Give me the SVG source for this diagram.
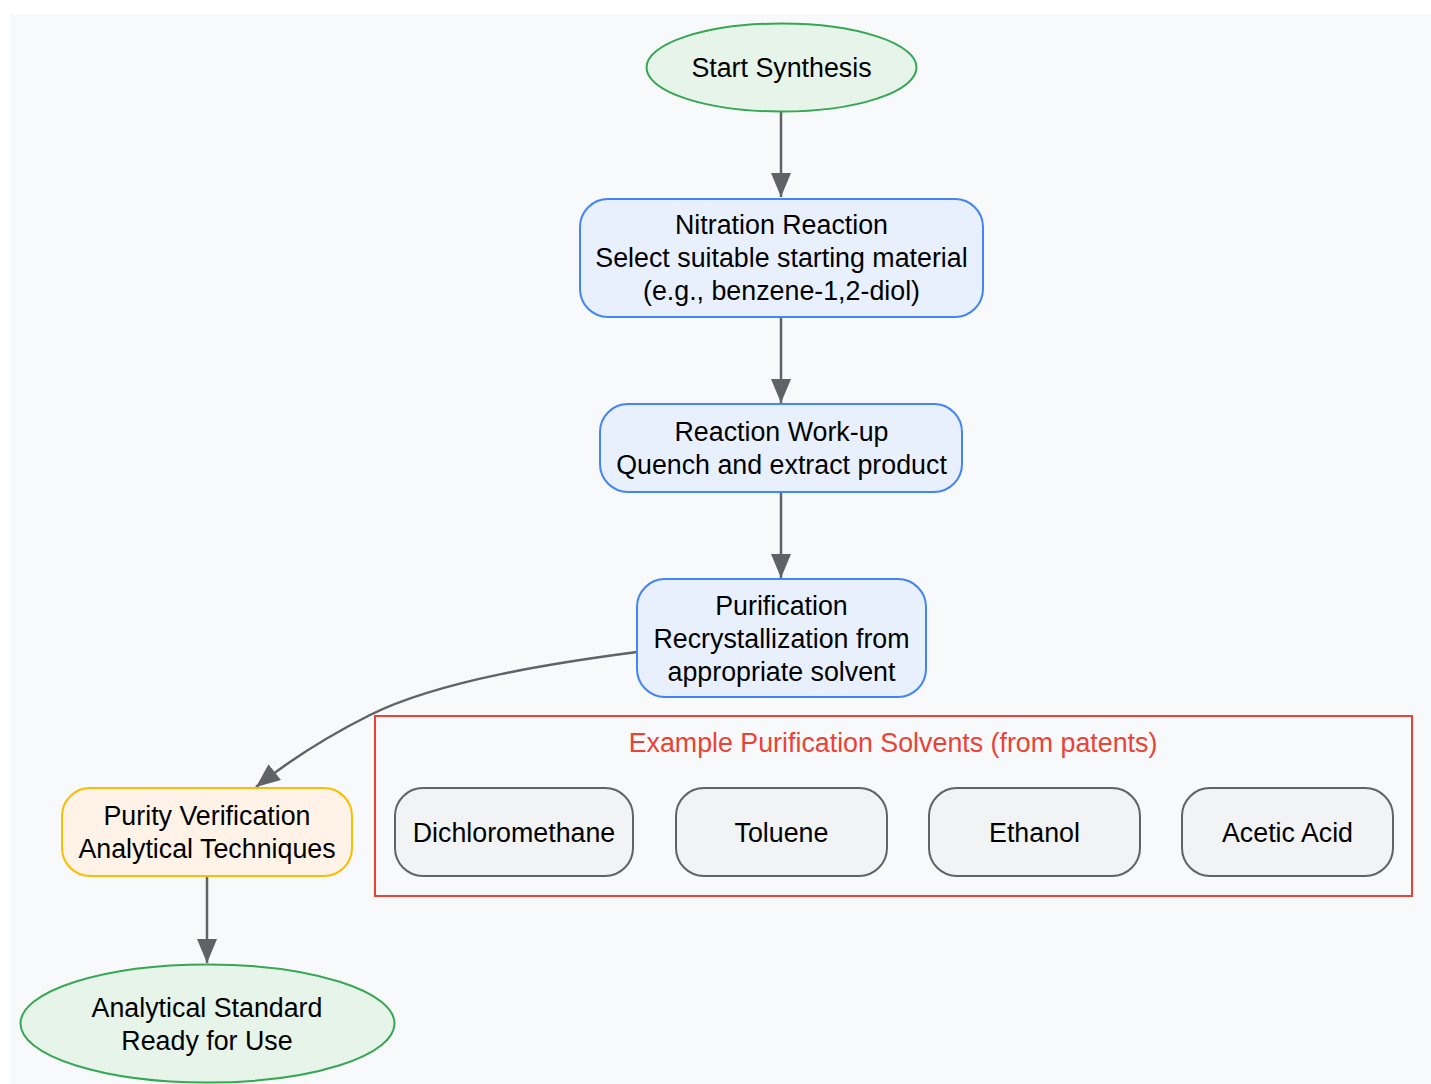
<svg xmlns="http://www.w3.org/2000/svg" width="1431" height="1084" viewBox="0 0 1431 1084">
<defs>
<style>
text{font-family:"Liberation Sans",Arial,sans-serif;font-size:26.8px;fill:#000;text-anchor:middle}
.green{fill:#e6f4ea;stroke:#34a853;stroke-width:2}
.blue{fill:#e8f0fe;stroke:#4285f4;stroke-width:2}
.yellow{fill:#fef3e6;stroke:#fbbc04;stroke-width:2}
.gray{fill:#f1f3f4;stroke:#5f6368;stroke-width:2}
.edge{fill:none;stroke:#5f6368;stroke-width:2.5}
</style>
<marker id="ah" viewBox="0 0 12 10" refX="12" refY="5" markerWidth="24" markerHeight="20" markerUnits="userSpaceOnUse" orient="auto">
<path d="M0,0 L12,5 L0,10 z" fill="#5f6368"/>
</marker>
</defs>
<rect x="0" y="0" width="1431" height="1084" fill="#ffffff"/>
<rect x="10" y="14" width="1421" height="1070" fill="#f8f9fa"/>

<g id="cluster">
<rect x="375" y="716" width="1037" height="180" fill="none" stroke="#ea4335" stroke-width="2"/>
<text x="893" y="752" style="fill:#ea4335">Example Purification Solvents (from patents)</text>
</g>

<g id="edges">
<path class="edge" d="M781,112 L781,197" marker-end="url(#ah)"/>
<path class="edge" d="M781,317 L781,403" marker-end="url(#ah)"/>
<path class="edge" d="M781,492 L781,578" marker-end="url(#ah)"/>
<path class="edge" d="M637,652 C560,662 440,680 370,715 C330,735 290,760 256,787" marker-end="url(#ah)"/>
<path class="edge" d="M207,876 L207,963" marker-end="url(#ah)"/>
</g>

<g id="start">
<ellipse class="green" cx="781.5" cy="67.5" rx="135" ry="44"/>
<text x="781.5" y="77">Start Synthesis</text>
</g>
<g id="nitration">
<rect class="blue" x="580" y="199" width="403" height="118" rx="28"/>
<text x="781.5" y="234">Nitration Reaction</text>
<text x="781.5" y="267">Select suitable starting material</text>
<text x="781.5" y="300">(e.g., benzene-1,2-diol)</text>
</g>
<g id="workup">
<rect class="blue" x="600" y="404" width="362" height="88" rx="28"/>
<text x="781.5" y="441">Reaction Work-up</text>
<text x="781.5" y="474">Quench and extract product</text>
</g>
<g id="purification">
<rect class="blue" x="637" y="579" width="289" height="118" rx="28"/>
<text x="781.5" y="615">Purification</text>
<text x="781.5" y="648">Recrystallization from</text>
<text x="781.5" y="681">appropriate solvent</text>
</g>
<g id="purity">
<rect class="yellow" x="62" y="788" width="290" height="88" rx="28"/>
<text x="207" y="825">Purity Verification</text>
<text x="207" y="858">Analytical Techniques</text>
</g>
<g id="standard">
<ellipse class="green" cx="207.5" cy="1023.5" rx="187" ry="59"/>
<text x="207" y="1017">Analytical Standard</text>
<text x="207" y="1050">Ready for Use</text>
</g>
<g id="dcm">
<rect class="gray" x="395" y="788" width="238" height="88" rx="28"/>
<text x="514" y="842">Dichloromethane</text>
</g>
<g id="toluene">
<rect class="gray" x="676" y="788" width="211" height="88" rx="28"/>
<text x="781.5" y="842">Toluene</text>
</g>
<g id="ethanol">
<rect class="gray" x="929" y="788" width="211" height="88" rx="28"/>
<text x="1034.5" y="842">Ethanol</text>
</g>
<g id="acetic">
<rect class="gray" x="1182" y="788" width="211" height="88" rx="28"/>
<text x="1287.5" y="842">Acetic Acid</text>
</g>
</svg>
